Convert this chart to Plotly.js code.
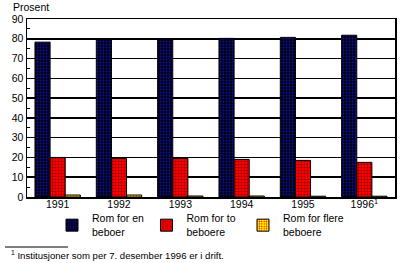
<!DOCTYPE html>
<html>
<head>
<meta charset="utf-8">
<script src="https://cdn.plot.ly/plotly-3.0.1.min.js"></script>
<style>html,body{margin:0;padding:0;background:#fff;}#chart{width:400px;height:263px;}</style>
</head>
<body>
<div id="chart"></div>
<script>
const years = ["1991", "1992", "1993", "1994", "1995", "1996"];
const tickLabels = ["1991", "1992", "1993", "1994", "1995", "1996<sup>1</sup>"];
const romForEn = [78.3, 79.6, 79.6, 80.2, 80.7, 81.8];
const romForTo = [20.0, 19.5, 19.5, 19.0, 18.5, 17.5];
const romForFlere = [1.0, 1.0, 0.5, 0.5, 0.4, 0.4];
const seriesNames = ["Rom for en<br>beboer", "Rom for to<br>beboere", "Rom for flere<br>beboere"];
const yTitle = "Prosent";
const footnote = "<sup>1</sup> Institusjoner som per 7. desember 1996 er i drift.";

const font = {family: "Liberation Sans, Arial, sans-serif", size: 10.5, color: "#000"};

function bar(name, vals, color, fg, leg) {
  return {
    type: "bar", x: years, y: vals, name: name, legend: leg,
    marker: {color: color, line: {color: "#000", width: 1},
      pattern: {shape: ".", fgcolor: fg, bgcolor: color, size: 3, solidity: 0.3}}
  };
}

const data = [
  bar(seriesNames[0], romForEn, "#000018", "#10109a", "legend"),
  bar(seriesNames[1], romForTo, "#ff0000", "#8a0000", "legend2"),
  bar(seriesNames[2], romForFlere, "#ffff00", "#ff0000", "legend3")
];

function leg(px) {
  return {orientation: "h", x: (px - 27) / 368, y: -0.045, xanchor: "left", yanchor: "top",
    bgcolor: "rgba(0,0,0,0)", font: font};
}

const layout = {
  width: 400, height: 263,
  margin: {l: 27, r: 5, t: 19, b: 66, autoexpand: false},
  paper_bgcolor: "#fff", plot_bgcolor: "#fff",
  font: font,
  barmode: "group", bargap: 0.26, bargroupgap: 0,
  showlegend: true,
  legend: leg(52),
  legend2: leg(146.5),
  legend3: leg(243),
  xaxis: {type: "category", tickvals: years, ticktext: tickLabels,
    showline: true, linecolor: "#000", linewidth: 1.5, mirror: true,
    ticks: "", showgrid: false, tickfont: font, automargin: false, ticklabelstandoff: -3},
  yaxis: {range: [0, 90], dtick: 10, tick0: 0, showline: true, linecolor: "#000", linewidth: 1.5,
    mirror: true, showgrid: true, gridcolor: "#000", gridwidth: 1.5, zeroline: false,
    ticks: "", tickfont: font, automargin: false,
    minor: {dtick: 5, ticks: "inside", ticklen: 3, tickcolor: "#000", showgrid: false}},
  annotations: [
    {text: yTitle, xref: "paper", yref: "paper", x: (11 - 27) / 368, y: (197 - 7) / 178,
      xanchor: "left", yanchor: "middle", showarrow: false, font: font},
    {text: footnote, xref: "paper", yref: "paper", x: (9 - 27) / 368, y: (197 - 255) / 178,
      xanchor: "left", yanchor: "middle", showarrow: false, font: {family: font.family, size: 9.6, color: "#000"}}
  ],
  shapes: [
    {type: "line", xref: "paper", yref: "paper", x0: (5 - 27) / 368, x1: (68 - 27) / 368,
      y0: (197 - 247) / 178, y1: (197 - 247) / 178, line: {color: "#000", width: 1}}
  ]
};

Plotly.newPlot("chart", data, layout, {displayModeBar: false, staticPlot: true});
</script>
</body>
</html>
